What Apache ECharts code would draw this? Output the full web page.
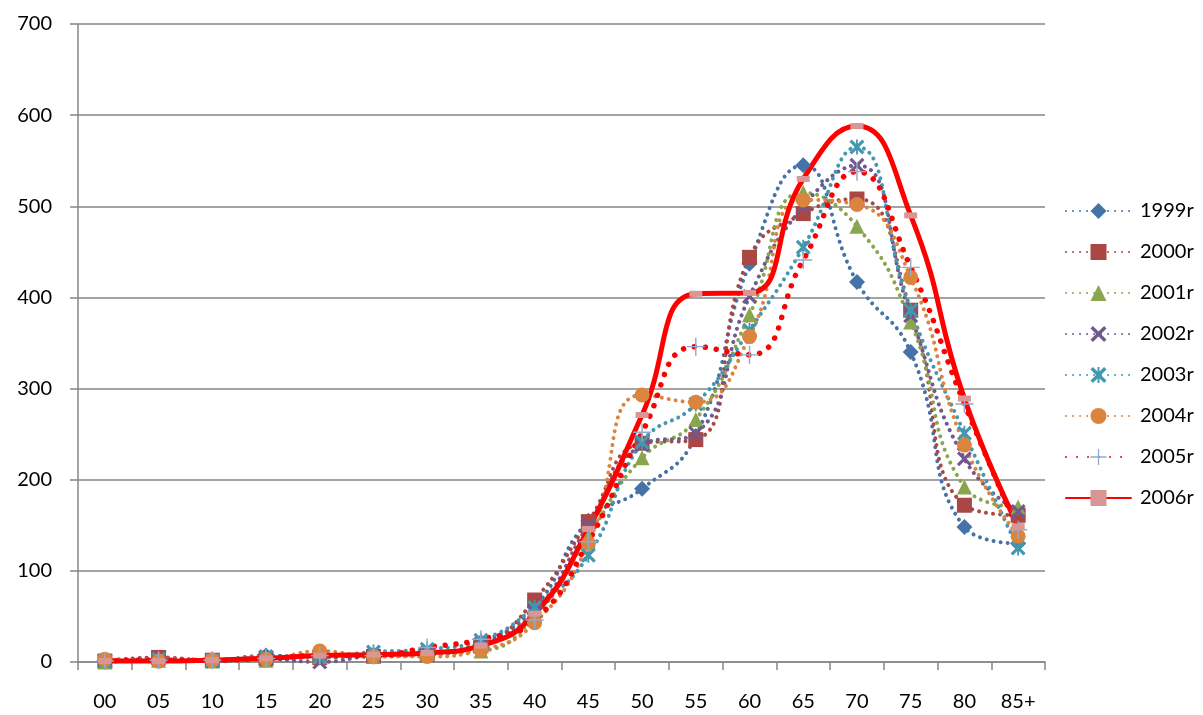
<!DOCTYPE html>
<html>
<head>
<meta charset="utf-8">
<script src="https://cdn.jsdelivr.net/npm/echarts@6/dist/echarts.min.js"></script>
<style>html,body{margin:0;padding:0;background:#fff}#c{width:1203px;height:715px}</style>
</head>
<body>
<div id="c"></div>
<script>
var categories = ['00','05','10','15','20','25','30','35','40','45','50','55','60','65','70','75','80','85+'];
var yTicks = [0,100,200,300,400,500,600,700];
var seriesNames = ['1999r','2000r','2001r','2002r','2003r','2004r','2005r','2006r'];
var y1999 = [2,4,2,7,5,8,10,22,60,155,190,248,437,545,417,340,148,130];
var y2000 = [1,5,2,4,5,6,8,18,68,154,240,244,444,492,508,386,172,161];
var y2001 = [0,2,1,2,6,6,9,12,50,138,224,266,381,515,478,373,192,170];
var y2002 = [1,3,1,3,0,7,9,20,55,150,238,251,401,500,545,380,223,165];
var y2003 = [1,3,2,6,6,11,14,24,60,117,241,283,364,455,565,386,251,125];
var y2004 = [3,1,2,3,12,6,6,13,43,130,293,285,357,507,502,422,238,138];
var y2005 = [1,2,2,4,7,7,16,25,46,132,252,346,337,441,538,433,283,145];
var y2006 = [1,1,2,4,7,8,10,18,53,146,271,404,405,530,588,490,289,149];

var FONT = 'Lato, "Open Sans", sans-serif';
var X_PATH = 'path://M0,1.5 L1.5,0 L5,3.5 L8.5,0 L10,1.5 L6.5,5 L10,8.5 L8.5,10 L5,6.5 L1.5,10 L0,8.5 L3.5,5 Z';
var AST_PATH = 'path://M0,1.5 L1.5,0 L5,3.5 L8.5,0 L10,1.5 L6.5,5 L10,8.5 L8.5,10 L5,6.5 L1.5,10 L0,8.5 L3.5,5 Z M4.4,0 L5.6,0 L5.6,10 L4.4,10 Z';
var PLUS_PATH = 'path://M4.6,0 L5.4,0 L5.4,4.6 L10,4.6 L10,5.4 L5.4,5.4 L5.4,10 L4.6,10 L4.6,5.4 L0,5.4 L0,4.6 L4.6,4.6 Z';

function dotted(name, data, color, symbol, size, markerColor, lw, gap) {
  return {
    name: name, type: 'line', data: data, smooth: 0.5,
    symbol: symbol, symbolSize: size, showAllSymbol: true,
    lineStyle: { color: color, width: lw, type: [0.01, gap], cap: 'round' },
    itemStyle: { color: markerColor, borderWidth: 0 },
    emphasis: { disabled: true }
  };
}

var series = [
  dotted(seriesNames[0], y1999, '#4572A7', 'diamond', 16, '#4572A7', 4, 7),
  dotted(seriesNames[1], y2000, '#AA4643', 'rect', 15, '#AA4643', 4, 7),
  dotted(seriesNames[2], y2001, '#89A54E', 'triangle', 15, '#89A54E', 4, 7),
  dotted(seriesNames[3], y2002, '#71588F', X_PATH, 15, '#71588F', 4, 7),
  dotted(seriesNames[4], y2003, '#4198AF', AST_PATH, 15, '#4198AF', 4, 7),
  dotted(seriesNames[5], y2004, '#DB843D', 'circle', 15, '#DB843D', 4, 7),
  dotted(seriesNames[6], y2005, '#FF0000', PLUS_PATH, 18, '#93A9CF', 5.5, 11),
  {
    name: seriesNames[7], type: 'line', data: y2006, smooth: 0.5,
    symbol: 'rect', symbolSize: [13, 6], showAllSymbol: true,
    lineStyle: { color: '#FF0000', width: 5, cap: 'round' },
    itemStyle: { color: '#D99694', borderWidth: 0 },
    emphasis: { disabled: true }
  }
];

var chart = echarts.init(document.getElementById('c'), null, { renderer: 'canvas' });
chart.setOption({
  animation: false,
  backgroundColor: '#fff',
  grid: { left: 78, right: 158, top: 24, bottom: 53 },
  legend: {
    orient: 'vertical', right: 0, left: 1060, top: 196,
    itemWidth: 65, itemHeight: 20, itemGap: 21,
    textStyle: { fontFamily: FONT, fontSize: 20, color: '#000', padding: [0,0,0,4] },
    data: seriesNames
  },
  xAxis: {
    type: 'category', data: categories, boundaryGap: true,
    axisLine: { lineStyle: { color: '#868686', width: 1.5 } },
    axisTick: { show: true, length: 8, alignWithLabel: false, lineStyle: { color: '#868686', width: 1.5 } },
    axisLabel: { fontFamily: FONT, fontSize: 20, color: '#000', margin: 30, interval: 0 }
  },
  yAxis: {
    type: 'value', min: yTicks[0], max: yTicks[yTicks.length - 1], interval: 100,
    axisLine: { show: true, lineStyle: { color: '#868686', width: 1.5 } },
    axisTick: { show: true, inside: false, length: 8, lineStyle: { color: '#868686', width: 1.5 } },
    axisLabel: { fontFamily: FONT, fontSize: 20, color: '#000', margin: 26 },
    splitLine: { show: true, lineStyle: { color: '#868686', width: 1.5 } }
  },
  series: series
});
</script>
</body>
</html>
